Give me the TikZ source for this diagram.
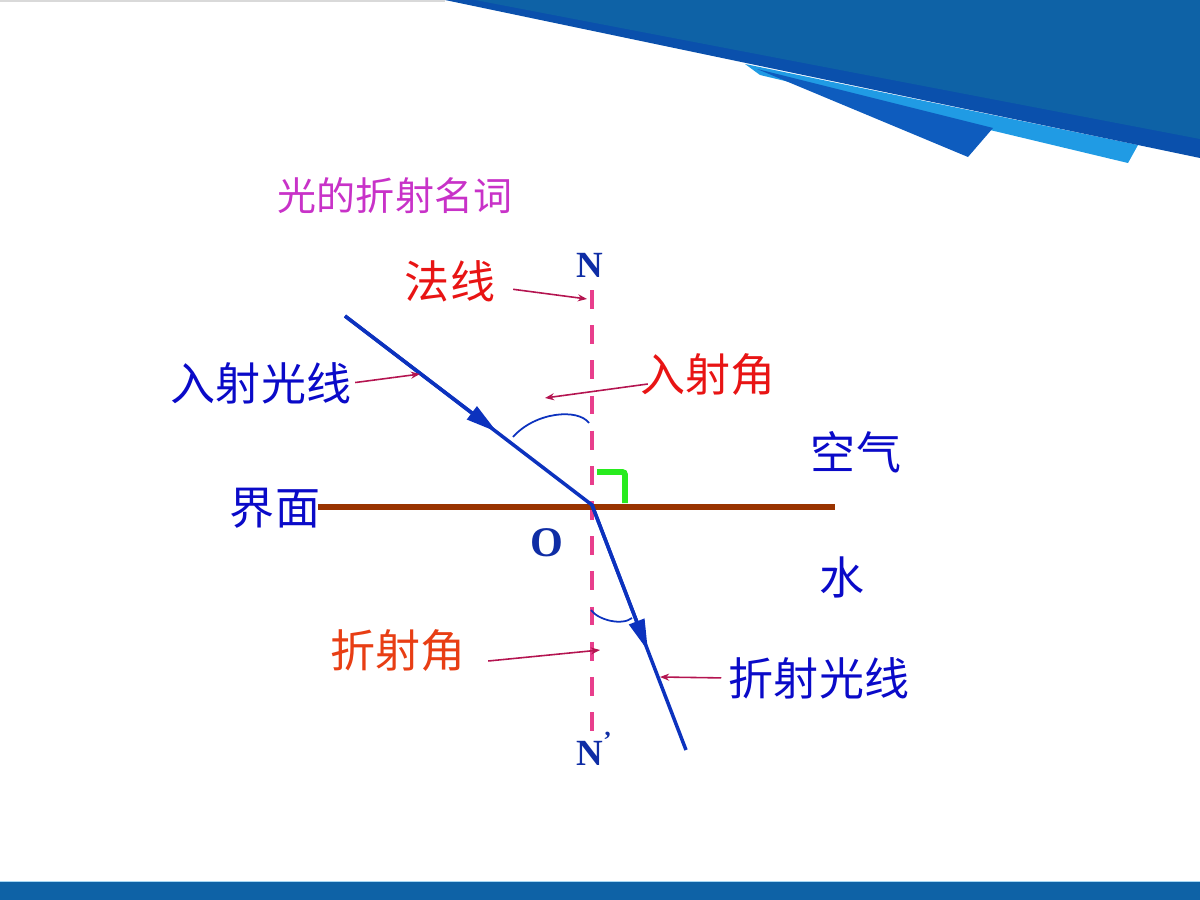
\documentclass[tikz,border=0pt]{standalone}
\usepackage{fontspec}
\setmainfont{Liberation Serif}
\newfontfamily\cjk{Noto Sans CJK SC}
\usetikzlibrary{arrows.meta}

\definecolor{bandmain}{RGB}{14,98,166}
\definecolor{banddark}{RGB}{10,80,172}
\definecolor{bandfold}{RGB}{14,92,190}
\definecolor{bandlight}{RGB}{32,155,228}
\definecolor{normalcol}{RGB}{232,62,140}
\definecolor{surfcol}{RGB}{153,51,0}
\definecolor{raycol}{RGB}{12,50,190}
\definecolor{pointcol}{RGB}{180,20,80}
\definecolor{anglecol}{RGB}{40,235,30}
\definecolor{textblue}{RGB}{10,10,200}
\definecolor{letterblue}{RGB}{15,45,165}
\definecolor{textred}{RGB}{232,20,20}
\definecolor{textorange}{RGB}{232,62,20}
\definecolor{titlecol}{RGB}{200,50,200}

\tikzset{
  ray/.style={line width=1pt, color=raycol},
  raytip/.style={-{Triangle[length=9pt,width=4.5pt]}},
  pointer/.style={line width=0.45pt, color=pointcol, -{Stealth[length=2.6pt,width=2pt]}},
  normalline/.style={line width=1.2pt, color=normalcol, dash pattern=on 5.4pt off 4.6pt},
  lbl/.style={font=\cjk\fontsize{12.8}{14}\selectfont, inner sep=0pt},
  letter/.style={font=\bfseries\fontsize{10.5}{12}\selectfont, inner sep=0pt, color=letterblue},
  anglearc/.style={line width=0.5pt, color=raycol},
}

\begin{document}
\begin{tikzpicture}[x=0.01cm,y=-0.01cm]
\useasboundingbox (0,0) rectangle (1200,900);
% top banner
\draw[gray!30, line width=0.5pt] (0,1) -- (445,1);
\fill[bandlight] (745,64) -- (1138,145) -- (1128,163) -- (760,75) -- cycle;
\fill[bandfold] (757,69) -- (993,128) -- (968,157) -- cycle;
\fill[banddark] (445,0) -- (1200,0) -- (1200,158) -- cycle;
\fill[bandmain] (475,0) -- (1200,0) -- (1200,139) -- cycle;
% bottom bar
\fill[bandmain] (0,882) rectangle (1200,900);
\draw[bandlight!40, line width=0.4pt] (0,881.5) -- (1200,881.5);

\coordinate (O) at (592,505);
\coordinate (Ntop) at (592,290);
\coordinate (Nbot) at (592,740);
\coordinate (Sl) at (318,507);
\coordinate (Sr) at (835,507);
\coordinate (A) at (345,316);
\coordinate (Amid) at (497,432);
\coordinate (B) at (686,750);
\coordinate (Bmid) at (648,651);

% normal, surface
\draw[normalline] (Ntop) -- (Nbot);
\draw[surfcol, line width=1.45pt] (Sl) -- (Sr);
\draw[anglecol, line width=1.7pt, rounded corners=0.8pt] (597,472) -- (625,472) -- (625,503);

% rays
\draw[ray] (A) -- (O) -- (B);
\draw[ray, raytip] (A) -- (Amid);
\draw[ray, raytip] (O) -- (Bmid);

% angle marks
\draw[anglearc] (513,437) .. controls (535,412) and (578,408) .. (589,423);
\draw[anglearc] (591,610) .. controls (598,620) and (622,626) .. (632,618);

% labels
\node[lbl, color=titlecol, font=\cjk\fontsize{11.1}{13}\selectfont] (title) at (395,196) {光的折射名词};
\node[letter] (N) at (590,265) {N};
\node[lbl, color=textred] (faxian) at (450,281) {法线};
\node[lbl, color=textblue] (rushe) at (261,383) {入射光线};
\node[lbl, color=textred] (rujiao) at (708,375) {入射角};
\node[lbl, color=textblue] (air) at (856,452) {空气};
\node[lbl, color=textblue] (jiemian) at (275,508) {界面};
\node[letter, font=\bfseries\fontsize{12}{14}\selectfont] (Olbl) at (547,543) {O};
\node[lbl, color=textblue] (water) at (842,577) {水};
\node[lbl, color=textorange] (zhejiao) at (398,650) {折射角};
\node[lbl, color=textblue] (zhexian) at (819,678) {折射光线};
\node[letter, anchor=south west] (Np) at (576,766) {N\raisebox{0.45em}{\fontsize{7}{8}\selectfont ’}};

% pointers
\coordinate (pFa) at (587,299);
\coordinate (pRu) at (420,374);
\coordinate (pRj) at (545,398);
\coordinate (pZj) at (600,650);
\coordinate (pZx) at (660,677);
\draw[pointer, shorten <=5pt] (faxian) -- (pFa);
\draw[pointer, shorten <=1pt] (rushe.east) -- (pRu);
\draw[pointer] ([shift={(8,9)}]rujiao.west) -- (pRj);
\draw[pointer] ([shift={(22,11)}]zhejiao.east) -- (pZj);
\draw[pointer, shorten <=2pt] (zhexian.west) -- (pZx);
\end{tikzpicture}
\end{document}
